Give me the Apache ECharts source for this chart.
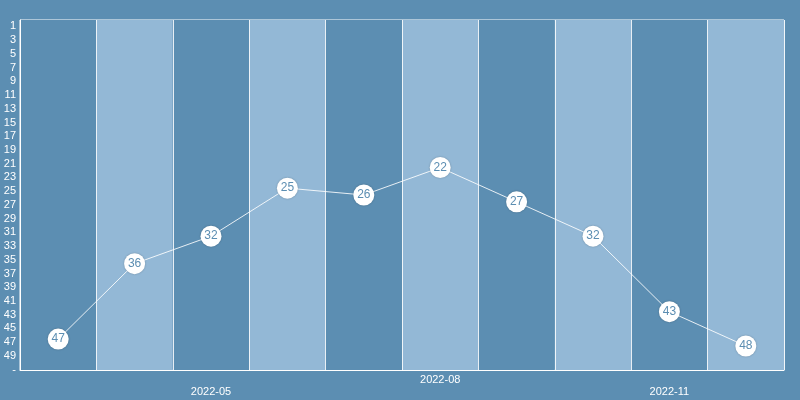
<!DOCTYPE html>
<html><head><meta charset="utf-8">
<script src="https://cdn.jsdelivr.net/npm/echarts@6/dist/echarts.min.js"></script>
<style>html,body{margin:0;padding:0;background:#5c8eb2}#c{width:800px;height:400px}</style>
</head><body><div id="c"></div>
<script>
const months = ['2022-03','2022-04','2022-05','2022-06','2022-07','2022-08','2022-09','2022-10','2022-11','2022-12'];
const ranks = [47, 36, 32, 25, 26, 22, 27, 32, 43, 48];
const rankTicks = ['1','2','3','4','5','6','7','8','9','10','11','12','13','14','15','16','17','18','19','20',
  '21','22','23','24','25','26','27','28','29','30','31','32','33','34','35','36','37','38','39','40',
  '41','42','43','44','45','46','47','48','49','50','-'];

const chart = echarts.init(document.getElementById('c'));
chart.setOption({
  backgroundColor: '#5c8eb2',
  animation: false,
  textStyle: { fontFamily: 'Liberation Sans' },
  grid: { left: 20, right: 16, top: 20, bottom: 30, show: true, borderColor: '#ffffff', borderWidth: 1, backgroundColor: 'transparent' },
  xAxis: {
    type: 'category',
    data: months,
    boundaryGap: true,
    axisLine: { lineStyle: { color: '#ffffff', width: 1 } },
    axisTick: { show: false, interval: 0 },
    axisLabel: {
      color: '#ffffff', fontSize: 11, margin: 4, lineHeight: 12,
      interval: (i) => i % 3 === 2,
      formatter: (v, i) => (i % 2 === 0 ? '\n' + v : v)
    },
    splitLine: { show: true, interval: 0, lineStyle: { color: 'rgba(255,255,255,0.85)', width: 1 } },
    splitArea: { show: true, interval: 0, areaStyle: { color: ['#5c8eb2', '#93b8d6'] } }
  },
  yAxis: {
    type: 'category',
    data: rankTicks,
    inverse: true,
    boundaryGap: true,
    axisLine: { lineStyle: { color: '#ffffff', width: 1 } },
    axisTick: { show: false },
    axisLabel: { color: '#ffffff', fontSize: 11, margin: 4, interval: 1, verticalAlign: 'top', lineHeight: 6 },
    splitLine: { show: false }
  },
  series: [{
    type: 'line',
    data: ranks.map((r, i) => [months[i], String(r)]),
    symbol: 'circle',
    symbolSize: 21,
    lineStyle: { color: 'rgba(255,255,255,0.85)', width: 1 },
    itemStyle: { color: '#ffffff', shadowColor: 'rgba(0,0,0,0.25)', shadowBlur: 2 },
    label: {
      show: true, position: 'inside', color: '#5c8eb2', fontSize: 12,
      formatter: (p) => String(ranks[p.dataIndex])
    }
  }]
});
</script>
</body></html>
